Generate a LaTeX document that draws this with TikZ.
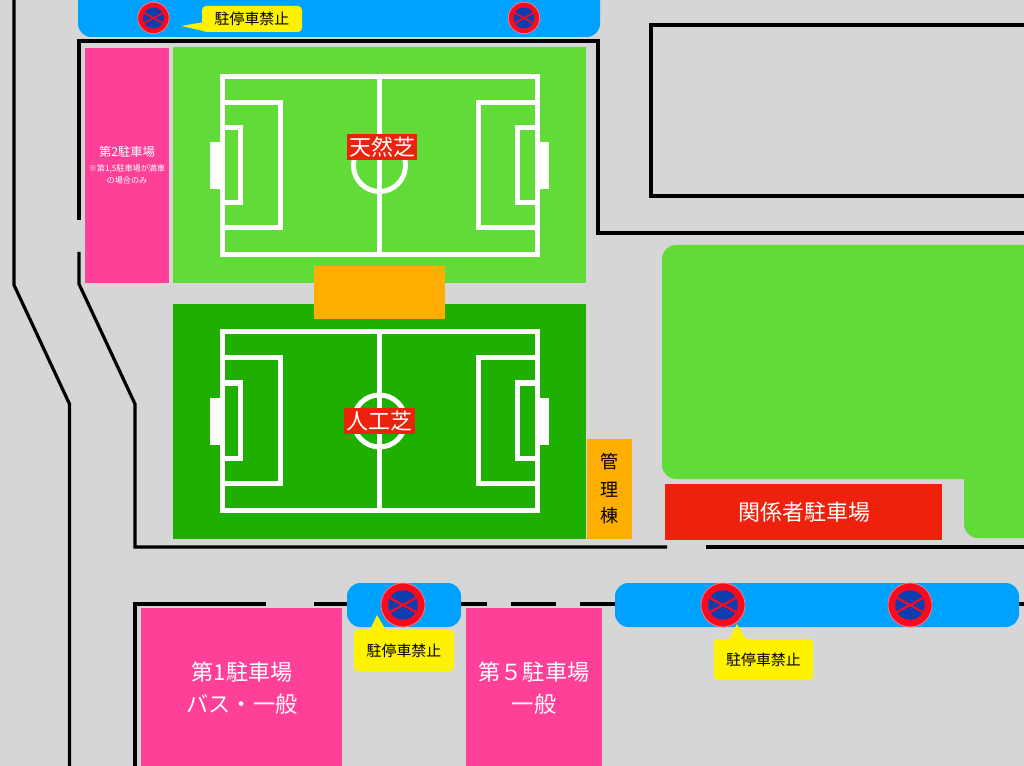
\documentclass[tikz,border=0pt]{standalone}
\usepackage{fontspec}
\setmainfont{Noto Sans CJK JP}
\definecolor{roadgray}{HTML}{D6D6D6}
\definecolor{grassgreen}{HTML}{60DB38}
\definecolor{turfgreen}{HTML}{1FAF00}
\definecolor{parkpink}{HTML}{FF4098}
\definecolor{buildorange}{HTML}{FEAE00}
\definecolor{staffred}{HTML}{EE220C}
\definecolor{noparkblue}{HTML}{00A2FF}
\definecolor{signblue}{HTML}{0B3FB0}
\definecolor{signred}{HTML}{FA0A1E}
\tikzset{
  road/.style={line width=2.4pt, black},
  pitchline/.style={line width=3.75pt, white},
  area/.style={inner sep=0pt, outer sep=0pt, anchor=north west},
  noparkzone/.style={fill=noparkblue, rounded corners=10pt},
  tag/.style={fill=staffred, text=white, font=\fontsize{16.5}{18}\selectfont, inner sep=0pt, minimum height=19.5pt},
  hint/.style={fill=yellow, rounded corners=3pt, inner sep=0pt, font=\fontsize{11.2}{13}\selectfont},
  bigtext/.style={text=white, align=center, font=\fontsize{16.6}{24.6}\selectfont},
  kanrichar/.style={inner sep=0pt, font=\fontsize{13.5}{15}\selectfont},
}
% one sign: x, y, radius
\newcommand{\nopark}[3]{
  \fill[signred, draw=signred!55!white, line width=0.6pt] (#1,#2) circle (#3);
  \fill[signblue] (#1,#2) circle ({#3*0.67});
  \draw[signred, line width={#3*0.1*0.75pt}] ({#1-#3*0.66},{#2-#3*0.36}) -- ({#1+#3*0.66},{#2+#3*0.36});
  \draw[signred, line width={#3*0.1*0.75pt}] ({#1-#3*0.66},{#2+#3*0.36}) -- ({#1+#3*0.66},{#2-#3*0.36});
}
\begin{document}
\begin{tikzpicture}[x=0.75pt, y=-0.75pt]
\useasboundingbox (0,0) rectangle (1024,766);
\fill[roadgray] (0,0) rectangle (1024,766);
% roads
\draw[road] (14,0) -- (14,285) -- (69.5,404) -- (69.5,766);
\draw[road] (79,220) -- (79,41) -- (598,41) -- (598,233) -- (1024,233);
\draw[road] (79,252) -- (79,284) -- (135,404) -- (135,547) -- (667,547);
\draw[road] (706,547) -- (1024,547);
\draw[road] (135,766) -- (135,604) -- (266,604);
\draw[road] (314,604) -- (487,604);
\draw[road] (511,604) -- (556,604);
\draw[road] (580,604) -- (1024,604);
\draw[road] (1024,25) -- (651,25) -- (651,196) -- (1024,196);
% fields
\fill[grassgreen] (173,47) rectangle (586,283);
\fill[turfgreen] (173,304) rectangle (586,539);
\fill[grassgreen] (1024,245) [rounded corners=10.5pt] -- (662,245) -- (662,479) [sharp corners] -- (964,479) [rounded corners=10.5pt] -- (964,538) [sharp corners] -- (1024,538) -- cycle;
% pitches
\foreach \py in {0,255.5}{
  \begin{scope}[yshift=-\py*0.75pt]
  \draw[pitchline] (222,76.5) rectangle (537.5,254.5);
  \draw[pitchline] (379.5,76.5) -- (379.5,254.5);
  \draw[pitchline] (379.5,165.5) circle (19.5pt);
  \draw[pitchline] (222,102.5) -- (280.5,102.5) -- (280.5,227.5) -- (222,227.5);
  \draw[pitchline] (222,127.5) -- (240.5,127.5) -- (240.5,203) -- (222,203);
  \fill[white] (210,142) rectangle (220,189);
  \draw[pitchline] (537.5,102.5) -- (478.5,102.5) -- (478.5,227.5) -- (537.5,227.5);
  \draw[pitchline] (537.5,127.5) -- (517.5,127.5) -- (517.5,203) -- (537.5,203);
  \fill[white] (540,142) rectangle (549,189);
  \end{scope}
}
\node[tag, minimum width=52.5pt] (tennen) at (382,147) {天然芝};
\node[tag, minimum width=53.5pt] (jinko) at (379.3,421) {人工芝};
% buildings
\fill[buildorange] (314,266) rectangle (445,319);
\node[area, fill=buildorange, minimum width=33.75pt, minimum height=75pt] (kanri) at (587,439) {};
\node[kanrichar] (kan) at (609.5,462) {管};
\node[kanrichar] (ri) at (609.5,490) {理};
\node[kanrichar] (tou) at (609.5,516) {棟};
% parking
\node[area, fill=parkpink, minimum width=63pt, minimum height=176.25pt] (park2) at (85,48) {};
\node[text=white, inner sep=0pt, font=\fontsize{9.2}{11}\selectfont] (park2a) at (127,152) {第2駐車場};
\node[text=white, inner sep=0pt, align=center, font=\fontsize{6.1}{9}\selectfont] (park2b) at (127,174) {※第1,5駐車場が満車\\の場合のみ};
\node[area, fill=staffred, minimum width=207.75pt, minimum height=42pt] (staff) at (665,484) {};
\node[text=white, inner sep=0pt, font=\fontsize{16.5}{20}\selectfont] (stafftext) at (804,512) {関係者駐車場};
\node[area, fill=parkpink, minimum width=150.75pt, minimum height=118.5pt] (park1) at (141,608) {};
\node[bigtext] (park1text) at (242,688) {第1駐車場\\バス・一般};
\node[area, fill=parkpink, minimum width=102pt, minimum height=118.5pt] (park5) at (466,608) {};
\node[bigtext] (park5text) at (534,688) {第５駐車場\\一般};
% no parking zones
\fill[noparkzone] (78,-20) rectangle (600,37);
\fill[noparkzone] (347,583) rectangle (461,627);
\fill[noparkzone] (615,583) rectangle (1019,627);
\nopark{153.5}{18}{15.7}
\nopark{524}{18}{15.7}
\nopark{403}{605}{22}
\nopark{723}{605}{22}
\nopark{910}{605}{22}
% hints
\coordinate (tipa) at (181,26);
\coordinate (tipb) at (377,615);
\coordinate (tipc) at (737,624);
\node[hint, minimum width=75pt, minimum height=19.5pt] (hinta) at (252,19) {駐停車禁止};
\node[hint, minimum width=75pt, minimum height=30.75pt] (hintb) at (404,650.5) {駐停車禁止};
\node[hint, minimum width=74.5pt, minimum height=30.75pt] (hintc) at (763.5,659.5) {駐停車禁止};
\fill[yellow] (tipa) -- (204,22) -- (208,32) -- cycle;
\fill[yellow] (tipb) -- (369,632) -- (387,632) -- cycle;
\fill[yellow] (tipc) -- (728,641) -- (747,641) -- cycle;
\end{tikzpicture}
\end{document}
